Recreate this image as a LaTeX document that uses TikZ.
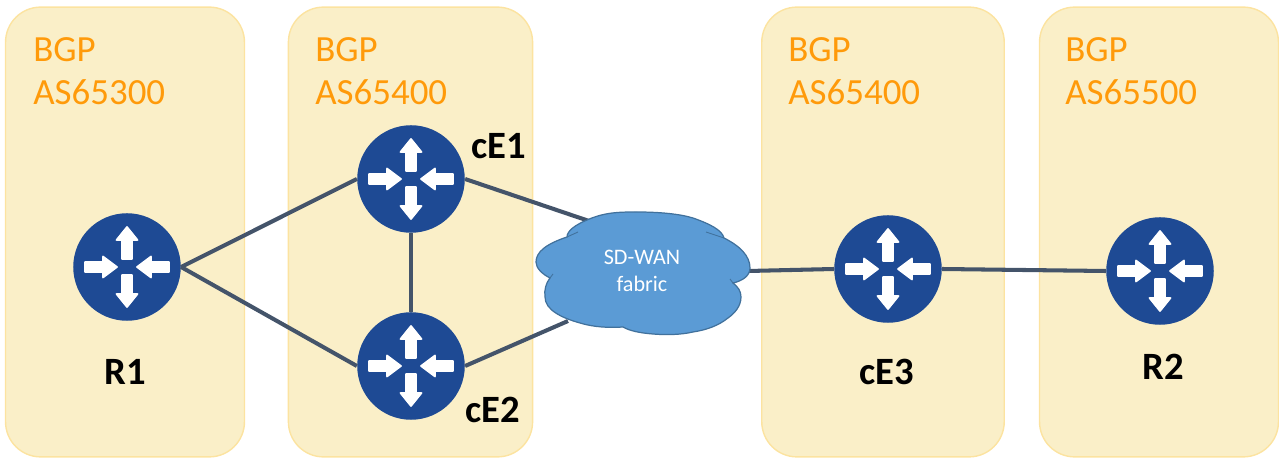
\documentclass[tikz,border=0pt]{standalone}
\usepackage{fontspec}
\setmainfont{Carlito}
\usetikzlibrary{
  positioning,
  arrows.meta
}
\definecolor{panelfill}{HTML}{FAEFC8}
\definecolor{paneledge}{HTML}{FCE3A0}
\definecolor{bgporange}{HTML}{FF9A0A}
\definecolor{routerblue}{HTML}{1E4A94}
\definecolor{linkgray}{HTML}{44546A}
\definecolor{cloudblue}{HTML}{5B9BD5}
\definecolor{cloudedge}{HTML}{41719C}
\tikzset{
  panel/.style={draw=paneledge,fill=panelfill,line width=0.8pt,rounded corners=20pt,minimum height=256pt},
  bgplabel/.style={text=bgporange,align=left,anchor=north west,inner sep=0pt,font=\fontsize{21}{24.4}\selectfont},
  router/.style={circle,fill=routerblue,minimum size=61.2pt,inner sep=0pt},
  routerlabel/.style={font=\fontsize{22}{24}\selectfont\bfseries},
  link/.style={draw=linkgray,line width=2.3pt},
  glyph/.style={fill=white,draw=white,line width=1pt,line join=round}
}
\newcommand{\routerglyph}[1]{
  \begin{scope}[shift={(#1)}]
    % outward arrows
    \foreach \ang in {90,270}
      \path[glyph,rotate=\ang] (8,-5) -- (27,-5) -- (27,-10.5) -- (40,0) -- (27,10.5) -- (27,5) -- (8,5) -- cycle;
    % inward arrows
    \foreach \ang in {0,180}
      \path[glyph,rotate=\ang] (42,-5) -- (24,-5) -- (24,-10.5) -- (10,0) -- (24,10.5) -- (24,5) -- (42,5) -- cycle;
  \end{scope}
}
\begin{document}
\begin{tikzpicture}[x=0.02cm,y=-0.02cm]
  \useasboundingbox (0,0) rectangle (1279,459);
  % AS panels
  \node[panel,minimum width=136pt] (asOne) at (125,232) {};
  \node[panel,minimum width=139pt] (asTwo) at (410.5,232) {};
  \node[panel,minimum width=138pt] (asThree) at (883,232) {};
  \node[panel,minimum width=136pt] (asFour) at (1159,232) {};
  \node[bgplabel] (lblOne) at (33,37) {BGP\\AS65300};
  \node[bgplabel] (lblTwo) at (315,37) {BGP\\AS65400};
  \node[bgplabel] (lblThree) at (788,37) {BGP\\AS65400};
  \node[bgplabel] (lblFour) at (1065,37) {BGP\\AS65500};
  % routers
  \node[router] (R1) at (127,267) {};
  \node[router] (cE1) at (411,179) {};
  \node[router] (cE2) at (411,366) {};
  \node[router] (cE3) at (888,269) {};
  \node[router] (R2) at (1160,271) {};
  \coordinate (wanNW) at (592,222);
  \coordinate (wanSW) at (568,321);
  \coordinate (wanE) at (748,271);
  % links
  \draw[link] (R1.east) -- (cE1.west);
  \draw[link] (R1.east) -- (cE2.west);
  \draw[link] (cE1.south) -- (cE2.north);
  \draw[link] (cE1.east) -- (wanNW);
  \draw[link] (cE2.east) -- (wanSW);
  \draw[link] (wanE) -- (cE3.west);
  \draw[link] (cE3.east) -- (R2.west);
  \routerglyph{R1}
  \routerglyph{cE1}
  \routerglyph{cE2}
  \routerglyph{cE3}
  \routerglyph{R2}
  % cloud
  \draw[fill=cloudblue,draw=cloudedge,line width=0.7pt]
    (587,220) .. controls (605,212) and (620,212) .. (637,212)
    .. controls (660,212) and (680,214) .. (693,218)
    .. controls (710,224) and (722,230) .. (724,238)
    .. controls (740,246) and (750,256) .. (750,268)
    .. controls (750,276) and (742,281) .. (733,283)
    .. controls (738,287) and (741,291) .. (741,297)
    .. controls (741,306) and (735,313) .. (728,318)
    .. controls (718,326) and (706,330) .. (693,332)
    .. controls (680,335) and (665,335) .. (653,334)
    .. controls (640,333) and (630,331) .. (623,327)
    .. controls (608,328) and (593,327) .. (580,323)
    .. controls (562,318) and (545,310) .. (545,297)
    .. controls (544,290) and (546,283) .. (550,278)
    .. controls (542,274) and (536,268) .. (536,262)
    .. controls (536,252) and (546,244) .. (567,237)
    .. controls (567,231) and (575,225) .. (587,220) -- cycle;
  \draw[draw=cloudedge,line width=0.5pt] (550,278) -- (553,274);
  \draw[draw=cloudedge,line width=0.5pt] (733,283) -- (730,279);
  \draw[draw=cloudedge,line width=0.5pt] (724,238) -- (706,232);
  \draw[draw=cloudedge,line width=0.5pt] (567,237) -- (578,232);
  \node[text=white,align=center,inner sep=0pt,font=\fontsize{12.6}{15.2}\selectfont] (wan) at (642,271) {SD-WAN\\fabric};
  % router names
  \node[routerlabel] (nameR1) at (125,372) {R1};
  \node[routerlabel] (nameCE1) at (499,146) {cE1};
  \node[routerlabel] (nameCE2) at (493,410) {cE2};
  \node[routerlabel] (nameCE3) at (887,372) {cE3};
  \node[routerlabel] (nameR2) at (1163,367) {R2};
\end{tikzpicture}
\end{document}
